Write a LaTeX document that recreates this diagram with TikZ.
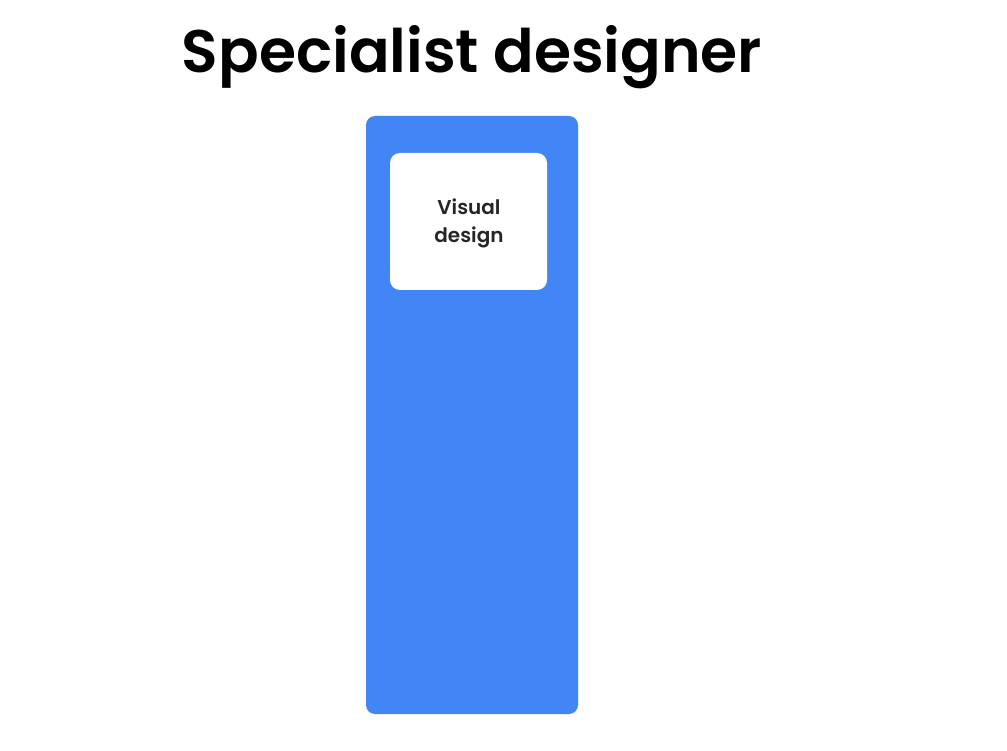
\documentclass[tikz,border=0pt]{standalone}
\usepackage{fontspec}
\setmainfont{Poppins}[BoldFont={Poppins SemiBold}]
\definecolor{gblue}{HTML}{4285F4}
\begin{document}
\begin{tikzpicture}[x=1pt,y=-1pt,
  panel/.style={fill=gblue,draw=none,rounded corners=9pt},
  card/.style={fill=white,draw=none,rounded corners=10pt},
  title/.style={font=\fontsize{60}{66}\selectfont\bfseries,text=black,inner sep=0pt},
  label/.style={font=\fontsize{20}{28}\selectfont\bfseries,text=black!85,align=center,inner sep=0pt}]
\useasboundingbox[fill=white] (0,0) rectangle (1007,751);
\node[title,anchor=base] (t) at (472,73) {Specialist designer};
\path[panel] (366,116) rectangle (578,714);
\path[card] (390,153) rectangle (547,290);
\node[label] (v) at (469,223) {Visual\\design};
\end{tikzpicture}
\end{document}
